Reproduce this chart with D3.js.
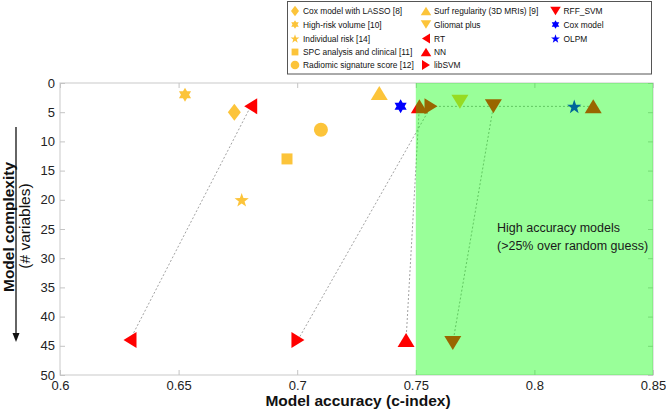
<!DOCTYPE html>
<html>
<head>
<meta charset="utf-8">
<script src="https://cdn.jsdelivr.net/npm/d3@7"></script>
<style>
  html, body { margin: 0; padding: 0; background: #fff; }
  svg { display: block; font-family: "Liberation Sans", Arial, Helvetica, sans-serif; }
</style>
</head>
<body>
<svg id="chart" width="666" height="410"></svg>
<script>
// ---------------- DATA ----------------
const seriesNames = [
  "Cox model with LASSO [8]", "High-risk volume [10]", "Individual risk [14]",
  "SPC analysis and clinical [11]", "Radiomic signature score [12]",
  "Surf regularity (3D MRIs) [9]", "Gliomat plus", "RT", "NN", "libSVM",
  "RFF_SVM", "Cox model", "OLPM"
];
const seriesShapes = [
  "diamond", "hexagram", "star", "square", "circle",
  "triUp", "triDown", "triLeft", "triUp", "triRight",
  "triDown", "hexagram", "star"
];
const seriesColors = [
  "#fcc43a", "#fcc43a", "#fcc43a", "#fcc43a", "#fcc43a",
  "#fcc43a", "#fcc43a", "#ff0000", "#ff0000", "#ff0000",
  "#ff0000", "#0000ff", "#0000ff"
];
// c-index (x) and number of variables (y) per series
const accuracy = [
  [0.6735], [0.6527], [0.6766], [0.6957], [0.7100],
  [0.7346], [0.7686], [0.6804, 0.6295], [0.7515, 0.7459, 0.8248], [0.7564, 0.7003],
  [0.7827, 0.7656], [0.7436], [0.8168]
];
const complexity = [
  [5], [2], [20], [13], [8],
  [1.7], [3.2], [4, 44], [4, 44, 4], [4, 44],
  [4, 44.5], [4], [4]
];
// dashed connectors: [series, pointIndex] -> [series, pointIndex]
const links = [
  ["RT", 1, "RT", 0],
  ["libSVM", 1, "libSVM", 0],
  ["NN", 1, "NN", 0],
  ["RFF_SVM", 1, "RFF_SVM", 0],
  ["libSVM", 0, "NN", 2]
];
const xTicks = [0.6, 0.65, 0.7, 0.75, 0.8, 0.85];
const xTickLabels = ["0.6", "0.65", "0.7", "0.75", "0.8", "0.85"];
const yTicks = [0, 5, 10, 15, 20, 25, 30, 35, 40, 45, 50];
const highAccuracyRange = [0.75, 0.85];
const legendColumns = [
  ["Cox model with LASSO [8]", "High-risk volume [10]", "Individual risk [14]", "SPC analysis and clinical [11]", "Radiomic signature score [12]"],
  ["Surf regularity (3D MRIs) [9]", "Gliomat plus", "RT", "NN", "libSVM"],
  ["RFF_SVM", "Cox model", "OLPM"]
];

// ---------------- LAYOUT ----------------
const svg = d3.select("#chart");
const x = d3.scaleLinear().domain([0.6, 0.85]).range([60, 653]);
const y = d3.scaleLinear().domain([0, 50]).range([83, 375]);

// shape generator (centered on bounding box)
const shapeSize = {
  diamond: [13, 17], square: [11, 11], circle: [14, 14],
  triUp: [17, 14], triDown: [17, 14], triLeft: [13, 16], triRight: [13, 16],
  hexagram: [14, 14], star: [15, 15]
};
function shapePath(type, s) {
  const [w0, h0] = shapeSize[type];
  const w = w0 * s, h = h0 * s;
  const pts = [];
  switch (type) {
    case "diamond": return `M0,${-h/2}L${w/2},0L0,${h/2}L${-w/2},0Z`;
    case "square": return `M${-w/2},${-h/2}h${w}v${h}h${-w}Z`;
    case "circle": { const p = d3.path(); p.arc(0, 0, w/2, 0, 2*Math.PI); p.closePath(); return p.toString(); }
    case "triUp": return `M0,${-h/2}L${w/2},${h/2}L${-w/2},${h/2}Z`;
    case "triDown": return `M0,${h/2}L${w/2},${-h/2}L${-w/2},${-h/2}Z`;
    case "triLeft": return `M${-w/2},0L${w/2},${-h/2}L${w/2},${h/2}Z`;
    case "triRight": return `M${w/2},0L${-w/2},${-h/2}L${-w/2},${h/2}Z`;
    case "hexagram": {
      const R = w/2;
      for (let i = 0; i < 12; i++) {
        const a = (-90 + i*30) * Math.PI/180;
        const r = i % 2 === 0 ? R : R/Math.sqrt(3);
        pts.push([r*Math.cos(a), r*Math.sin(a)]);
      }
      return "M" + pts.map(p => p.join(",")).join("L") + "Z";
    }
    case "star": {
      const R = w/2;
      for (let i = 0; i < 10; i++) {
        const a = (-90 + i*36) * Math.PI/180;
        const r = i % 2 === 0 ? R : R*0.40;
        pts.push([r*Math.cos(a), r*Math.sin(a) + R*0.1]);
      }
      return "M" + pts.map(p => p.join(",")).join("L") + "Z";
    }
  }
}

// frame
svg.append("rect")
  .attr("x", x(0.6)).attr("y", y(0))
  .attr("width", x(0.85) - x(0.6)).attr("height", y(50) - y(0))
  .attr("fill", "none").attr("stroke", "#d2d2d2").attr("stroke-width", 1.2);

// axes
function styleAxis(g) {
  g.select(".domain").remove();
  g.selectAll(".tick line").attr("stroke", "#c4c4c4");
  g.selectAll(".tick text").attr("fill", "#222").style("font-size", "13px")
    .style("font-family", "'Liberation Sans', Arial, sans-serif");
}
svg.append("g").attr("transform", `translate(0,${y(50)})`)
  .call(d3.axisBottom(x).tickValues(xTicks).tickFormat((d, i) => xTickLabels[i]).tickSize(-5).tickPadding(6))
  .call(styleAxis);
svg.append("g").attr("transform", `translate(0,${y(0)})`)
  .call(d3.axisTop(x).tickValues(xTicks).tickFormat("").tickSize(-5))
  .call(styleAxis);
svg.append("g").attr("transform", `translate(${x(0.6)},0)`)
  .call(d3.axisLeft(y).tickValues(yTicks).tickSize(-5).tickPadding(5))
  .call(styleAxis);
svg.append("g").attr("transform", `translate(${x(0.85)},0)`)
  .call(d3.axisRight(y).tickValues(yTicks).tickFormat("").tickSize(-5))
  .call(styleAxis);

// connectors
const pt = (name, i) => { const k = seriesNames.indexOf(name); return [x(accuracy[k][i]), y(complexity[k][i])]; };
svg.append("g").selectAll("line").data(links).join("line")
  .attr("x1", d => pt(d[0], d[1])[0]).attr("y1", d => pt(d[0], d[1])[1])
  .attr("x2", d => pt(d[2], d[3])[0]).attr("y2", d => pt(d[2], d[3])[1])
  .attr("stroke", "#8a8a8a").attr("stroke-width", 0.8).attr("stroke-dasharray", "2,2");

// markers
const points = [];
seriesNames.forEach((n, k) => accuracy[k].forEach((a, i) => points.push({ k, a, c: complexity[k][i] })));
svg.append("g").selectAll("path").data(points).join("path")
  .attr("transform", d => `translate(${x(d.a)},${y(d.c)})`)
  .attr("d", d => shapePath(seriesShapes[d.k], 1))
  .attr("fill", d => seriesColors[d.k]);

// high-accuracy band (semi-transparent overlay)
svg.append("rect")
  .attr("x", x(highAccuracyRange[0])).attr("y", y(0))
  .attr("width", x(highAccuracyRange[1]) - x(highAccuracyRange[0]))
  .attr("height", y(50) - y(0))
  .attr("fill", "#00ff00").attr("fill-opacity", 0.4);

svg.append("text").attr("x", 497).attr("y", 232)
  .style("font-size", "12.5px").attr("fill", "#1a1a1a").text("High accuracy models");
svg.append("text").attr("x", 497).attr("y", 250)
  .style("font-size", "12.5px").attr("fill", "#1a1a1a").text("(>25% over random guess)");

// axis titles
svg.append("text").attr("x", 358).attr("y", 406).attr("text-anchor", "middle")
  .style("font-size", "15.5px").style("font-weight", "bold").attr("fill", "#111")
  .text("Model accuracy (c-index)");
svg.append("text").attr("transform", "translate(13.5,227) rotate(-90)").attr("text-anchor", "middle")
  .style("font-size", "15.5px").style("font-weight", "bold").attr("fill", "#111")
  .text("Model complexity");
svg.append("text").attr("transform", "translate(30,226) rotate(-90)").attr("text-anchor", "middle")
  .style("font-size", "15.5px").attr("fill", "#111")
  .text("(# variables)");
// arrow
svg.append("line").attr("x1", 16).attr("y1", 127).attr("x2", 16).attr("y2", 334)
  .attr("stroke", "#111").attr("stroke-width", 1.3);
svg.append("path").attr("d", "M12.5,333L19.5,333L16,342Z").attr("fill", "#111");

// legend
svg.append("rect").attr("x", 287.5).attr("y", 1.5).attr("width", 364).attr("height", 72.5)
  .attr("fill", "#fff").attr("stroke", "#555").attr("stroke-width", 1);
const colX = [295, 426, 555.5];
const rowY = [11, 24.5, 38.5, 52, 65];
legendColumns.forEach((col, ci) => {
  col.forEach((name, ri) => {
    const k = seriesNames.indexOf(name);
    const g = svg.append("g").attr("transform", `translate(${colX[ci]},${rowY[ri]})`);
    g.append("path").attr("d", shapePath(seriesShapes[k], 0.62)).attr("fill", seriesColors[k]);
    g.append("text").attr("x", 8).attr("y", 3).style("font-size", "8.4px").attr("fill", "#111").text(name);
  });
});
</script>
</body>
</html>
